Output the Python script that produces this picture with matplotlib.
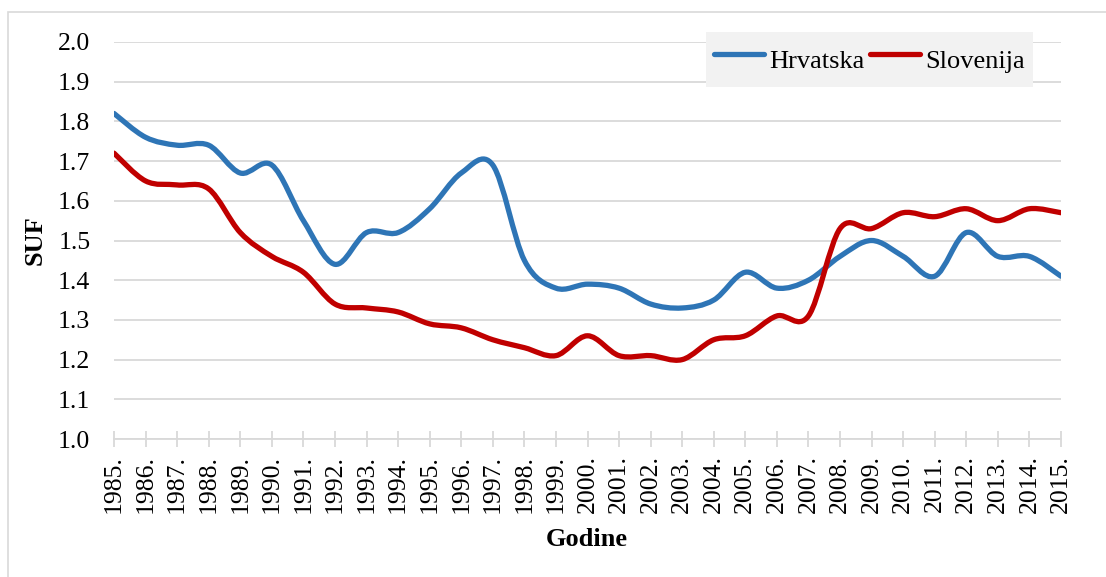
import numpy as np
import matplotlib
matplotlib.use("Agg")
import matplotlib.pyplot as plt
from matplotlib.path import Path
from matplotlib.patches import PathPatch, Rectangle
from matplotlib.lines import Line2D

plt.rcParams["font.family"] = ["Liberation Serif", "DejaVu Serif"]

years = list(range(1985, 2016))
year_labels = [f"{y}." for y in years]
hrvatska = [1.82, 1.76, 1.74, 1.74, 1.67, 1.69, 1.55, 1.44, 1.52, 1.52,
            1.58, 1.67, 1.69, 1.45, 1.38, 1.39, 1.38, 1.34, 1.33, 1.35,
            1.42, 1.38, 1.40, 1.46, 1.50, 1.46, 1.41, 1.52, 1.46, 1.46, 1.41]
slovenija = [1.72, 1.65, 1.64, 1.63, 1.52, 1.46, 1.42, 1.34, 1.33, 1.32,
             1.29, 1.28, 1.25, 1.23, 1.21, 1.26, 1.21, 1.21, 1.20, 1.25,
             1.26, 1.31, 1.31, 1.53, 1.53, 1.57, 1.56, 1.58, 1.55, 1.58, 1.57]
series_names = ["Hrvatska", "Slovenija"]
colors = ["#2e75b6", "#c00000"]


def smooth_path(xs, ys):
    # Excel-like smoothed line: cubic Bezier through every point
    p = np.column_stack([xs, ys]).astype(float)
    ext = np.vstack([p[0], p, p[-1]])
    verts = [p[0]]
    codes = [Path.MOVETO]
    for i in range(len(p) - 1):
        c1 = ext[i + 1] + (ext[i + 2] - ext[i]) / 6.0
        c2 = ext[i + 2] - (ext[i + 3] - ext[i + 1]) / 6.0
        verts += [c1, c2, p[i + 1]]
        codes += [Path.CURVE4] * 3
    return Path(verts, codes)


W, H = 1106, 577
fig = plt.figure(figsize=(W / 100, H / 100), dpi=100)
ax = fig.add_axes([114 / W, 1 - 439 / H, (1061 - 114) / W, (439 - 42) / H])

# outer chart border
fig.patches.append(Rectangle((8 / W, -0.1), 1.2, 1 - 12 / H + 0.1, transform=fig.transFigure,
                             fill=False, edgecolor="#d9d9d9", linewidth=1.2, zorder=0))

for vals, col in zip([hrvatska, slovenija], colors):
    ax.add_patch(PathPatch(smooth_path(years, vals), fill=False, edgecolor=col,
                           linewidth=3.8, capstyle="round", joinstyle="round", zorder=3))

ax.set_xlim(1985, 2015)
ax.set_ylim(1.0, 2.0)
ax.set_yticks(np.arange(1.0, 2.01, 0.1))
ax.set_yticklabels([f"{v:.1f}" for v in np.arange(1.0, 2.01, 0.1)])
ax.set_xticks(years)
ax.set_xticklabels(year_labels, rotation=90)
ax.yaxis.grid(True, color="#d9d9d9", linewidth=1.3)
ax.set_axisbelow(True)
for s in ["top", "right", "left"]:
    ax.spines[s].set_visible(False)
ax.spines["bottom"].set_color("#d9d9d9")
ax.spines["bottom"].set_linewidth(1.3)
ax.tick_params(axis="y", length=0, pad=17, labelsize=18.5)
ax.tick_params(axis="x", direction="inout", length=11, width=1.3, color="#d9d9d9",
               pad=6, labelsize=18.5)

fig.text(35 / W, 1 - 240 / H, "SUF", rotation=90, ha="center", va="center",
         fontsize=19, fontweight="bold")
fig.text(587 / W, 1 - 540 / H, "Godine", ha="center", va="center",
         fontsize=19, fontweight="bold")

handles = [Line2D([], [], color=c, linewidth=3.8, solid_capstyle="round") for c in colors]
leg = ax.legend(handles, series_names, loc="upper left", ncol=2,
                bbox_to_anchor=(706 / W, 1 - 32 / H), bbox_transform=fig.transFigure,
                fontsize=19, frameon=True, fancybox=False, framealpha=1,
                facecolor="#f2f2f2", edgecolor="none", handlelength=1.9,
                handleheight=1.9, handletextpad=0.2, columnspacing=0.2,
                borderpad=0.3, borderaxespad=0)
leg.set_zorder(5)

fig.savefig("out.png", dpi=100)
